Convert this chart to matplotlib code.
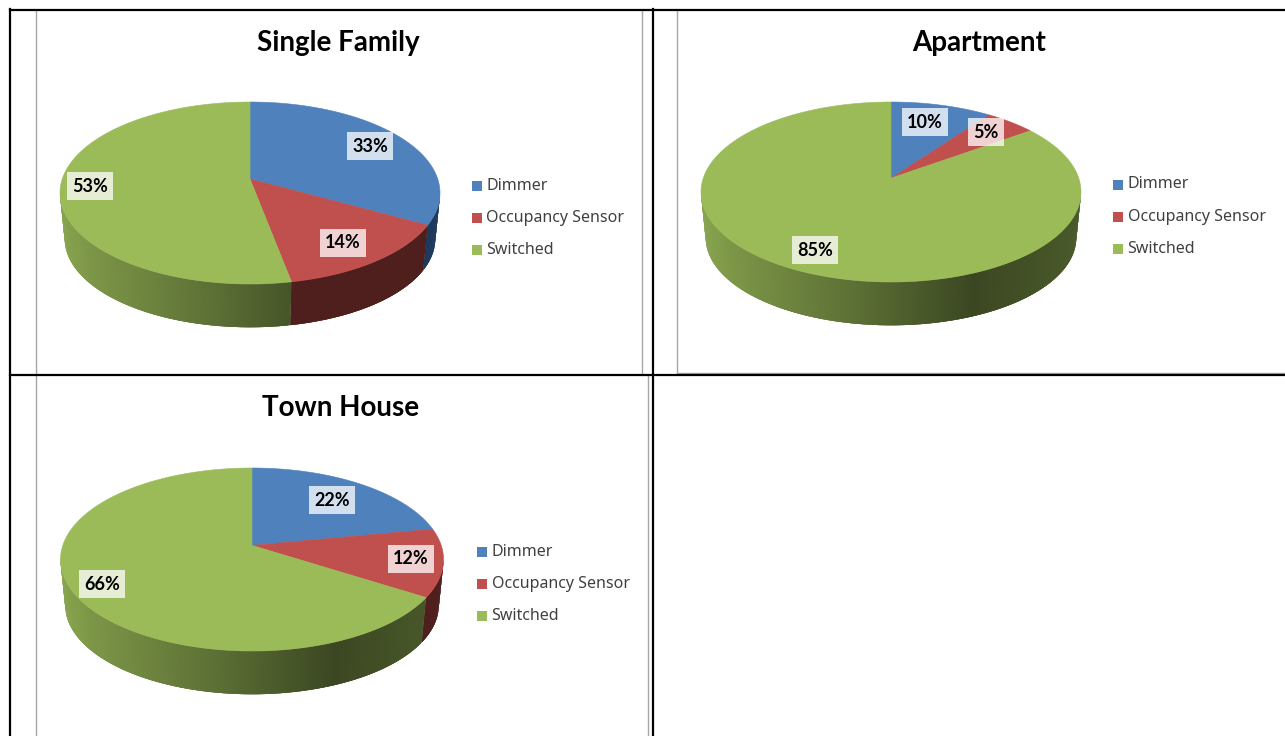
import numpy as np
import matplotlib
matplotlib.use('Agg')
import matplotlib.pyplot as plt
from matplotlib.collections import PolyCollection
from matplotlib.patches import Rectangle

titles = ['Single Family', 'Apartment', 'Town House']
categories = ['Dimmer', 'Occupancy Sensor', 'Switched']
single_family = [33, 14, 53]
apartment = [10, 5, 85]
town_house = [22, 12, 66]

colors = ['#4f81bd', '#c0504d', '#9bbb59']
side_colors = ['#1d3a5c', '#4e1f1c', None]

# layout of each pie, in pixels of the 1285x736 picture
pies = [
    dict(title=titles[0], values=single_family, cx=250, cy=193, rx=190, ry=91, depth=46,
         title_x=338, title_y=43, legend_x=472, legend_y=185.5,
         labels=[(370, 146), (343, 243), (90, 186)]),
    dict(title=titles[1], values=apartment, cx=891, cy=192, rx=190, ry=90, depth=46,
         title_x=979, title_y=43, legend_x=1113, legend_y=184.5,
         labels=[(925, 122), (986, 132), (815, 250)]),
    dict(title=titles[2], values=town_house, cx=252, cy=559.5, rx=191.5, ry=91.5, depth=46,
         title_x=341, title_y=408, legend_x=477, legend_y=551.5,
         labels=[(332, 500), (411, 559), (102, 584)]),
]

TILT = -0.154


def project(theta):
    # clockwise from 12 o'clock, with a bit of perspective so the centre sits high
    X = np.sin(theta)
    Y = -np.cos(theta)
    d = 1 + TILT * Y
    return X * np.sqrt(1 - TILT ** 2) / d, (Y + TILT) / d


def shade(xf):
    return np.interp(xf, [0, 0.08, 0.4, 0.72, 1], [0.88, 0.80, 0.60, 0.38, 0.48])


def draw_pie(ax, p):
    cx, cy, rx, ry = p['cx'], p['cy'], p['rx'], p['ry']
    edges = np.radians(np.concatenate([[0], np.cumsum(p['values'])]) * 3.6)

    # side wall first
    for i, col in enumerate(colors):
        rgb = np.array(matplotlib.colors.to_rgb(col))
        n = max(int((edges[i + 1] - edges[i]) * 160), 4)
        th = np.linspace(edges[i], edges[i + 1], n)
        xs, ys = project(th)
        quads = []
        face = []
        for k in range(n - 1):
            if ys[k] < 0 and ys[k + 1] < 0:
                continue
            k2 = min(k + 3, n - 1)  # overlap the next strips to hide seams
            a = (cx + rx * xs[k], cy + ry * ys[k])
            b = (cx + rx * xs[k2], cy + ry * ys[k2])
            c = (cx + 0.975 * rx * xs[k2], cy + p['depth'] + 0.97 * ry * ys[k2])
            d = (cx + 0.975 * rx * xs[k], cy + p['depth'] + 0.97 * ry * ys[k])
            quads.append([a, b, c, d])
            if side_colors[i]:
                face.append(matplotlib.colors.to_rgb(side_colors[i]))
            else:
                face.append(rgb * shade((xs[k] + 1) / 2))
        if quads:
            ax.add_collection(PolyCollection(quads, facecolors=face, edgecolors='none'))

    # top face
    for i, col in enumerate(colors):
        th = np.linspace(edges[i], edges[i + 1], 200)
        xs, ys = project(th)
        apex_y = cy + ry * TILT
        pts = [(cx, apex_y)] + list(zip(cx + rx * xs, cy + ry * ys))
        ax.fill(*zip(*pts), facecolor=col, edgecolor=col, linewidth=0.4, zorder=3)

    # value labels
    for v, (lx, ly) in zip(p['values'], p['labels']):
        ax.text(lx, ly, f'{v}%', ha='center', va='center', fontsize=13, fontweight='bold',
                family='Lato', color='black', zorder=5,
                bbox=dict(boxstyle='square,pad=0.3', facecolor='white', edgecolor='none', alpha=0.75))

    ax.text(p['title_x'], p['title_y'], p['title'], ha='center', va='center', fontsize=20,
            fontweight='bold', family='Lato', color='black', zorder=5)

    # legend
    for i, name in enumerate(categories):
        y = p['legend_y'] + i * 32.2
        ax.add_patch(Rectangle((p['legend_x'], y - 5), 10, 10, facecolor=colors[i], edgecolor='none', zorder=4))
        ax.text(p['legend_x'] + 14.5, y, name, ha='left', va='center', fontsize=11.5,
                family='Noto Sans', color='#404040', zorder=5)


fig = plt.figure(figsize=(12.85, 7.36), dpi=100)
ax = fig.add_axes([0, 0, 1, 1])
ax.set_xlim(0, 1285)
ax.set_ylim(736, 0)
ax.axis('off')

# chart frames (grey)
gray = '#a6a6a6'
for x, y0, y1 in [(36, 10, 375), (641.5, 10, 375), (36, 376, 736), (648, 376, 736)]:
    ax.plot([x, x], [y0, y1], color=gray, lw=1, zorder=1)
ax.plot([677, 677, 1285], [10, 372.5, 372.5], color=gray, lw=1, zorder=1)

# table rules (black)
ax.plot([10, 1285], [9.5, 9.5], color='black', lw=1.6, zorder=6)
ax.plot([10, 1285], [375, 375], color='black', lw=1.6, zorder=6)
ax.plot([10, 10], [9, 736], color='black', lw=1.6, zorder=6)
ax.plot([652.5, 652.5], [9, 736], color='black', lw=1.6, zorder=6)

for p in pies:
    draw_pie(ax, p)

fig.savefig('out.png', dpi=100, facecolor='white')
